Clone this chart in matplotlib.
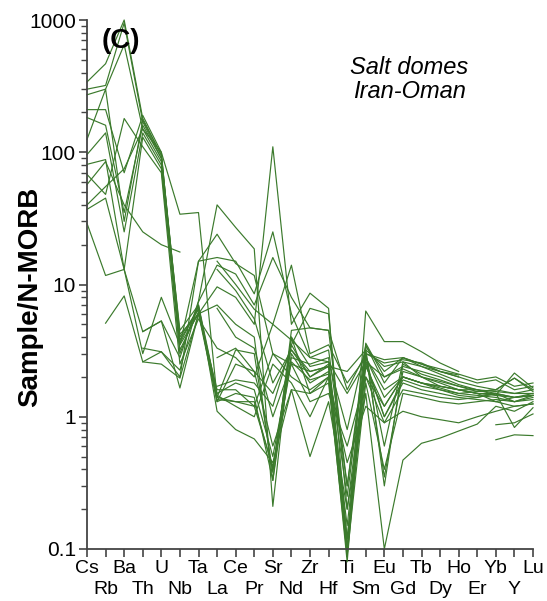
import numpy as np
import matplotlib
matplotlib.use("Agg")
import matplotlib.pyplot as plt
from matplotlib.ticker import LogLocator, NullFormatter, FixedLocator, FixedFormatter

plt.rcParams['font.family'] = ['Liberation Sans', 'DejaVu Sans']

nan = np.nan
elements = ["Cs", "Rb", "Ba", "Th", "U", "Nb", "Ta", "La", "Ce", "Pr", "Sr", "Nd", "Zr",
            "Hf", "Ti", "Sm", "Eu", "Gd", "Tb", "Dy", "Ho", "Er", "Yb", "Y", "Lu"]
ytick_values = [0.1, 1, 10, 100, 1000]
ytick_labels = ["0.1", "1", "10", "100", "1000"]

# Sample / N-MORB values (Cs ... Lu)
s01 = [340, 467, 1000, 180, 95, 4.0, 6.5, 1.35, 1.3, 1.3, 0.40, 3.5, 2.0, 2.5, 0.09, 3.0, 0.35, 2.2, 2.0, 1.8, 1.6, 1.5, 1.5, 1.4, 1.5]
s02 = [300, 320, 950, 170, 90, 3.5, 6.0, 1.3, 1.5, 1.4, 0.33, 3.0, 1.8, 2.2, 0.10, 3.3, 0.30, 2.5, 2.1, 1.9, 1.7, 1.55, 1.6, 1.5, 1.6]
s03 = [272, 300, 650, 150, 85, 4.5, 7.0, 1.5, 1.8, 1.6, 0.50, 2.8, 2.5, 2.8, 0.12, 2.8, 1.4, 2.0, 1.8, 1.6, 1.5, 1.45, 1.4, 1.3, 1.35]
s04 = [210, 210, 70, 190, 100, 3.2, 6.2, 1.4, 3.2, 3.0, 0.38, 4.0, 1.5, 2.0, 0.08, 3.6, 2.0, 2.4, 2.2, 2.0, 1.75, 1.6, 1.46, 2.14, 1.65]
s05 = [183, 160, 35, 160, 90, 3.8, 6.5, 1.3, 2.5, 2.2, 1.5, 3.2, 2.2, 2.4, 0.25, 3.0, 0.6, 2.6, 2.0, 1.7, 1.6, 1.5, 1.3, 1.4, 1.45]
s06 = [125, 300, 30, 175, 95, 4.2, 6.0, 1.6, 1.6, 1.2, 0.42, 2.6, 1.9, 2.1, 0.15, 2.6, 1.0, 1.9, 1.7, 1.6, 1.45, 1.4, 1.5, 0.83, 1.17]
s07 = [96, 140, 25, 140, 80, 3.0, 7.0, 1.1, 0.8, 0.68, 0.45, 1.6, 0.5, 1.3, 0.2, 1.5, 0.1, 0.47, 0.63, 0.69, 0.78, 0.88, 1.2, 1.1, 1.3]
s08 = [81, 88, 13, 130, 75, 3.6, 6.8, 1.45, 1.2, 1.0, 2.5, 1.8, 1.0, 2.0, 0.45, 1.2, 0.9, 1.1, 1.0, 0.95, 0.9, 1.0, 1.1, 1.2, 1.25]
s09 = [68, 48, 180, 110, 70, 2.5, 5.5, 3.3, 2.8, 2.0, 5.0, 3.8, 2.8, 3.2, 0.3, 3.5, 1.8, 2.8, 2.4, 2.1, 1.85, 1.7, 1.6, 1.96, 1.55]
s10 = [57, 85, 40, 25, 20, 17.6, nan, nan, nan, nan, nan, nan, nan, nan, nan, nan, nan, nan, nan, nan, nan, nan, nan, nan, nan]
s11 = [40, 55, 75, 150, 100, 34, 35, 1.4, 1.3, 1.2, 3.0, 2.0, 1.6, 2.0, 0.1, 2.4, 1.2, 2.0, 1.8, 1.7, 1.6, 1.6, 1.5, 1.4, 1.45]
s12 = [37, 45, 13, 4.4, 5.3, 2.8, 7.5, 40, 27, 18.6, 0.21, 4.0, 2.4, 2.6, 1.5, 2.6, 2.0, 2.3, 2.0, 1.85, 1.7, 1.6, 1.55, 1.5, 1.5]
s13 = [nan, nan, nan, 3.3, 3.1, 2.0, 15, 24, 14.4, 11.7, 3.0, 2.5, 1.3, 1.5, 0.6, 2.0, 1.2, 2.0, 1.8, 1.7, 1.6, 1.5, 1.45, 1.4, 1.45]
s14 = [29, 11.7, 13, 3.0, 8.0, 3.5, 15, 16, 15, 8.5, 25, 6.0, 2.8, 2.6, 0.8, 3.4, 2.2, 2.8, 2.5, 2.2, 2.0, 1.8, 1.9, 1.6, 1.7]
s15 = [nan, 5.1, 8.2, 2.6, 3.1, 2.25, 7.4, 14, 12, 7.0, 16, 8.0, 4.7, 4.5, 1.6, 3.0, 2.7, 2.8, 2.5, 2.3, 2.1, 1.9, 2.0, 1.7, 1.8]
s16 = [nan, nan, nan, 2.6, 2.5, 1.96, 6.0, 9.6, 8.0, 5.0, 110, 5.0, 8.6, 6.6, 0.1, 6.3, 3.7, 3.7, 3.1, 2.55, 2.2, nan, nan, nan, nan]
s17 = [nan, nan, nan, 4.4, 5.3, 1.65, 6.0, 7.0, 5.0, 4.0, 0.33, 4.5, 4.7, 4.5, 0.3, 3.0, 2.55, 2.7, 2.55, 2.2, 2.0, nan, nan, nan, nan]
s18 = [nan, nan, nan, nan, nan, nan, nan, 6.6, 4.0, 3.3, 1.0, 2.5, 2.2, 2.4, 2.2, 3.2, 2.4, 2.6, 2.4, 2.2, 2.07, nan, nan, nan, nan]
s19 = [nan, nan, nan, nan, nan, nan, nan, nan, nan, nan, nan, nan, nan, nan, nan, nan, nan, nan, nan, nan, nan, nan, 0.67, 0.73, 0.72]
s20 = [nan, nan, nan, nan, nan, nan, nan, nan, nan, nan, nan, nan, nan, nan, nan, nan, nan, nan, nan, nan, nan, nan, 0.87, 0.9, 1.05]
s21 = [nan, nan, nan, nan, nan, nan, nan, 15, 10, 6.5, 5.0, 14, 3.0, 3.5, 1.8, 2.8, 1.6, 2.0, 1.8, 1.65, 1.5, 1.55, 1.6, 1.96, 1.6]
s22 = [nan, nan, nan, nan, nan, nan, nan, 13, 9.0, 5.5, 1.8, 3.2, 2.0, 2.4, 0.12, 2.0, 0.9, 1.6, 1.5, 1.4, 1.35, 1.4, 1.5, 1.3, 1.45]
s23 = [nan, nan, nan, nan, nan, nan, nan, 2.8, 3.3, 2.2, 0.6, 1.6, 1.5, 1.8, 0.09, 1.8, 0.4, 1.5, 1.4, 1.3, 1.25, 1.3, 1.35, 1.3, 1.4]
s24 = [nan, nan, nan, nan, nan, nan, nan, 1.7, 1.9, 1.8, 1.2, 3.5, 6.6, 6.0, 0.2, 2.5, 1.0, 1.8, 1.6, 1.5, 1.4, 1.35, 1.3, 1.2, 1.25]

samples = [s01, s02, s03, s04, s05, s06, s07, s08, s09, s10, s11, s12,
           s13, s14, s15, s16, s17, s18, s19, s20, s21, s22, s23, s24]

W, H = 547, 601
fig = plt.figure(figsize=(W / 100, H / 100), dpi=100)
ax = fig.add_axes([87 / W, 1 - 549 / H, (533 - 87) / W, (549 - 20) / H])

x = np.arange(len(elements))
line_color = '#3b7a2c'
for s in samples:
    ax.plot(x, np.array(s, dtype=float), color=line_color, lw=0.85, clip_on=False)

ax.set_yscale('log')
ax.set_ylim(0.1, 1000)
ax.set_xlim(0, len(elements) - 1)

axis_color = '#444444'
for side in ['top', 'right']:
    ax.spines[side].set_visible(False)
for side in ['left', 'bottom']:
    ax.spines[side].set_color(axis_color)
    ax.spines[side].set_linewidth(1.3)

ax.yaxis.set_major_locator(FixedLocator(ytick_values))
ax.yaxis.set_major_formatter(FixedFormatter(ytick_labels))
ax.yaxis.set_minor_locator(LogLocator(base=10, subs=np.arange(2, 10)))
ax.yaxis.set_minor_formatter(NullFormatter())
ax.tick_params(axis='y', which='major', length=6, width=1.2, color=axis_color, labelsize=15, pad=2)
ax.tick_params(axis='y', which='minor', length=4, width=1.0, color=axis_color)

# upper row of element labels on even positions, lower row on odd positions
even = x[0::2]
odd = x[1::2]
ax.set_xticks(even)
ax.set_xticklabels(elements[0::2])
ax.set_xticks(odd, minor=True)
ax.set_xticklabels(elements[1::2], minor=True)
ax.tick_params(axis='x', which='major', length=6, width=1.2, color=axis_color, labelsize=14, pad=2)
ax.tick_params(axis='x', which='minor', length=6, width=1.2, color=axis_color, labelsize=14, pad=17)

fig.text(30 / W, 1 - 297 / H, 'Sample/N-MORB', rotation=90, ha='center', va='center',
         fontsize=20, fontweight='bold')
fig.text(121 / W, 1 - 41 / H, '(C)', ha='center', va='center', fontsize=20, fontweight='bold')
fig.text(409 / W, 1 - 67 / H, 'Salt domes', ha='center', va='center', fontsize=17, style='italic')
fig.text(409 / W, 1 - 92 / H, 'Iran-Oman', ha='center', va='center', fontsize=17, style='italic')

fig.savefig('out.png', dpi=100)
